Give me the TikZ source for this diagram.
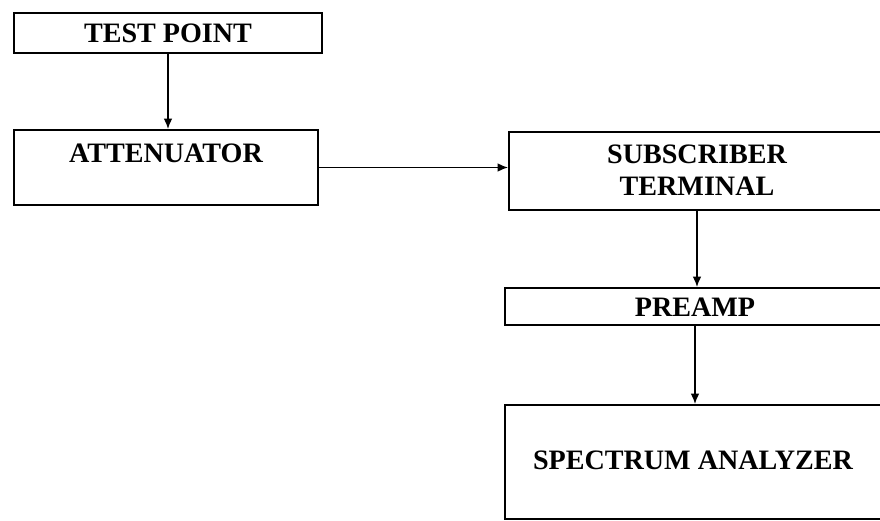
\documentclass[tikz,border=0pt]{standalone}
\usepackage{fontspec}
\setmainfont{Liberation Serif}
\usetikzlibrary{arrows.meta}
\begin{document}
\begin{tikzpicture}[x=0.02cm, y=-0.02cm, >={Latex[length=6pt,width=5pt]}, line width=1pt,
    box/.style={draw, rectangle, inner sep=0pt},
    lbl/.style={font=\fontsize{16}{20}\selectfont\bfseries, align=center, inner sep=0pt}]
				% 0. 画布
				\useasboundingbox (0,0) rectangle (880,521);
				\clip (0,0) rectangle (880,521);
				
				% 1. 左侧方框
				\node[box, minimum width=308*0.02cm, minimum height=40*0.02cm] (tp) at (168,33) {};
				\node[lbl] (tplbl) at (168,33) {TEST POINT};
				\node[box, minimum width=304*0.02cm, minimum height=75*0.02cm] (att) at (166,167.5) {};
				\node[lbl] (attlbl) at (166,153) {ATTENUATOR};
				
				% 2. 右侧方框
				\node[box, minimum width=376*0.02cm, minimum height=78*0.02cm] (sub) at (697,171) {};
				\node[lbl] (sublbl) at (697,170) {SUBSCRIBER\\[-1.5pt]TERMINAL};
				\node[box, minimum width=380*0.02cm, minimum height=37*0.02cm] (pre) at (695,306.5) {};
				\node[lbl] (prelbl) at (695,307) {PREAMP};
				\node[box, minimum width=380*0.02cm, minimum height=114*0.02cm] (spec) at (695,462) {};
				\node[lbl] (speclbl) at (693,460) {SPECTRUM ANALYZER};
				
				% 3. 连线
				\draw[->] (tp.south) -- (tp.south |- att.north);
				\draw[->] (att.east) -- (att.east -| sub.west);
				\draw[->] (sub.south) -- (sub.south |- pre.north);
				\draw[->] (pre.south) -- (pre.south |- spec.north);
			\end{tikzpicture}
\end{document}
